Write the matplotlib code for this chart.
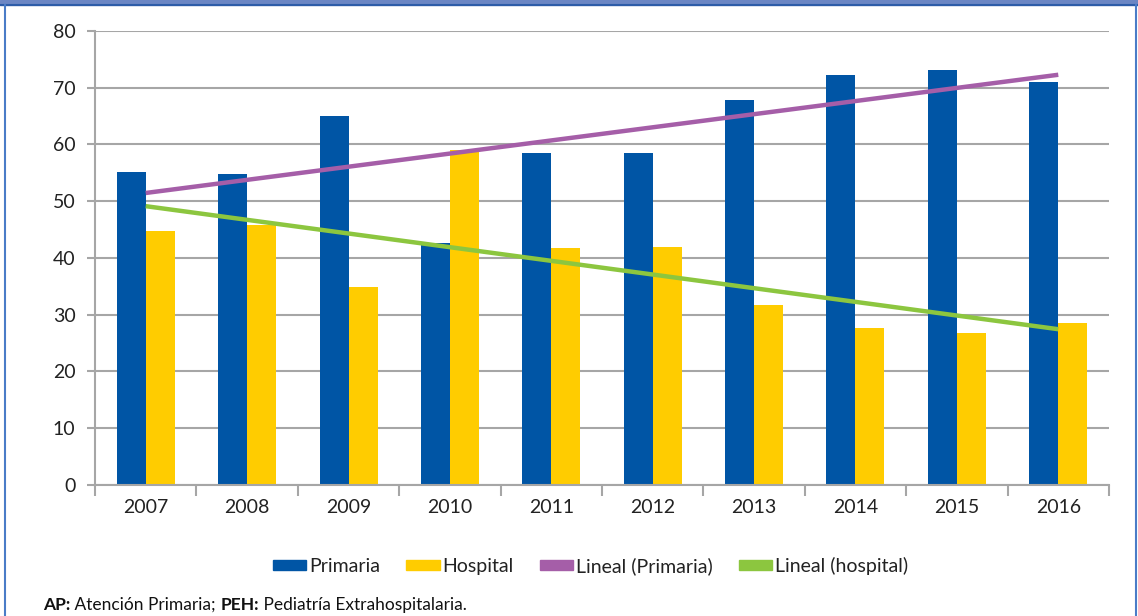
import matplotlib.pyplot as plt
import numpy as np
from matplotlib.patches import Rectangle

years = ['2007', '2008', '2009', '2010', '2011', '2012', '2013', '2014', '2015', '2016']
primaria = [55.2, 54.8, 65.0, 42.6, 58.5, 58.5, 67.8, 72.2, 73.1, 71.0]
hospital = [44.8, 45.8, 34.9, 59.0, 41.8, 41.9, 31.7, 27.7, 26.8, 28.5]
yticks = [0, 10, 20, 30, 40, 50, 60, 70, 80]
legend_labels = ['Primaria', 'Hospital', 'Lineal (Primaria)', 'Lineal (hospital)']

c_prim = '#0055a5'
c_hosp = '#ffcc00'
c_lprim = '#a55ea8'
c_lhosp = '#8cc63f'
c_grid = '#a6a6a6'

plt.rcParams['font.family'] = ['Lato', 'DejaVu Sans']

fig = plt.figure(figsize=(11.38, 6.16), dpi=100)
ax = fig.add_axes([0.0835, 0.2127, 0.891, 0.737])

x = np.arange(len(years))
w = 0.286
ax.bar(x - w / 2, primaria, w, color=c_prim, zorder=2)
ax.bar(x + w / 2, hospital, w, color=c_hosp, zorder=2)

# linear trend lines (like Excel "Lineal")
p1 = np.polyfit(x, primaria, 1)
p2 = np.polyfit(x, hospital, 1)
xe = np.array([x[0], x[-1]])
ax.plot(xe, np.polyval(p1, xe), color=c_lprim, lw=3.2, zorder=3, solid_capstyle='butt')
ax.plot(xe, np.polyval(p2, xe), color=c_lhosp, lw=3.2, zorder=3, solid_capstyle='butt')

ax.set_xlim(-0.5, len(years) - 0.5)
ax.set_ylim(0, 80)
ax.set_yticks(yticks)
ax.set_yticklabels([str(t) for t in yticks])
ax.yaxis.grid(True, color=c_grid, lw=1.5, zorder=0)
ax.set_axisbelow(True)

ax.set_xticks(x)
ax.set_xticklabels(years)
ax.set_xticks(np.arange(-0.5, len(years)), minor=True)
ax.tick_params(axis='x', which='major', length=0, pad=10, labelsize=14, colors='#222222')
ax.tick_params(axis='x', which='minor', length=8, width=1.5, color=c_grid)
ax.tick_params(axis='y', length=6, width=1.5, color=c_grid, pad=8, labelsize=14, labelcolor='#222222')

for s in ['top', 'right']:
    ax.spines[s].set_visible(False)
for s in ['left', 'bottom']:
    ax.spines[s].set_color(c_grid)
    ax.spines[s].set_linewidth(1.5)

handles = [Rectangle((0, 0), 1, 1, color=c) for c in [c_prim, c_hosp, c_lprim, c_lhosp]]
fig.legend(handles, legend_labels,
           loc='center', bbox_to_anchor=(0.519, 0.081), ncol=4, frameon=False,
           fontsize=14, handlelength=1.7, handleheight=0.45, handletextpad=0.15,
           columnspacing=1.35, labelcolor='#222222')

# footnote with bold abbreviations
fig.canvas.draw()
r = fig.canvas.get_renderer()
parts = [('AP:', 'bold'), (' Atención Primaria; ', 'normal'), ('PEH:', 'bold'),
         (' Pediatría Extrahospitalaria.', 'normal')]
xx = 0.038
for txt, wt in parts:
    t = fig.text(xx, 0.01, txt, fontsize=12.5, fontweight=wt, color='#111111')
    bb = t.get_window_extent(renderer=r)
    xx = bb.x1 / fig.bbox.width

# outer frame
fig.patches.append(Rectangle((0, 1 - 5 / 616), 1, 5 / 616, transform=fig.transFigure,
                             color='#6b86c4', zorder=0))
fig.add_artist(plt.Line2D([0, 1], [1 - 5 / 616, 1 - 5 / 616], transform=fig.transFigure,
                          color='#2d5ca8', lw=1.5))
fig.add_artist(plt.Line2D([5 / 1138, 5 / 1138], [0, 1 - 5 / 616], transform=fig.transFigure,
                          color='#4a7cc7', lw=1.5))
fig.add_artist(plt.Line2D([1136 / 1138, 1136 / 1138], [0, 1 - 5 / 616], transform=fig.transFigure,
                          color='#4a7cc7', lw=1.5))

plt.savefig('out.png', dpi=100)
